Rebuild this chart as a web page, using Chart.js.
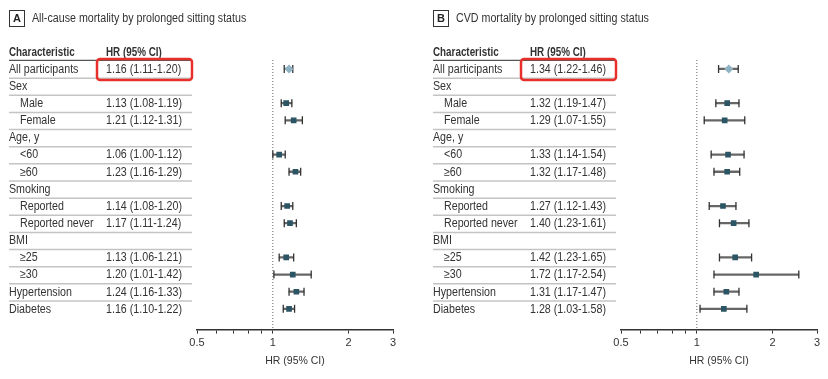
<!DOCTYPE html>
<html>
<head>
<meta charset="utf-8">
<script src="https://cdn.jsdelivr.net/npm/chart.js@4/dist/chart.umd.min.js"></script>
<style>
  body { margin: 0; background: #fff; width: 828px; height: 379px; position: relative; overflow: hidden; }
  .panel { position: absolute; top: 0; width: 405px; height: 379px; }
</style>
</head>
<body>
<div class="panel" style="left:0"><canvas id="chartA" width="405" height="379"></canvas></div>
<div class="panel" style="left:424px"><canvas id="chartB" width="405" height="379"></canvas></div>
<script>
// rows of the table, top to bottom
const categories = ["All participants", "Sex", "Male", "Female", "Age, y", "<60", "\u226560",
  "Smoking", "Reported", "Reported never", "BMI", "\u226525", "\u226530", "Hypertension", "Diabetes"];
const indented = [false, false, true, true, false, true, true, false, true, true, false, true, true, false, false];

// A: all-cause mortality
const hrA = [1.16, null, 1.13, 1.21, null, 1.06, 1.23, null, 1.14, 1.17, null, 1.13, 1.20, 1.24, 1.16];
const loA = [1.11, null, 1.08, 1.12, null, 1.00, 1.16, null, 1.08, 1.11, null, 1.06, 1.01, 1.16, 1.10];
const hiA = [1.20, null, 1.19, 1.31, null, 1.12, 1.29, null, 1.20, 1.24, null, 1.21, 1.42, 1.33, 1.22];

// B: CVD mortality
const hrB = [1.34, null, 1.32, 1.29, null, 1.33, 1.32, null, 1.27, 1.40, null, 1.42, 1.72, 1.31, 1.28];
const loB = [1.22, null, 1.19, 1.07, null, 1.14, 1.17, null, 1.12, 1.23, null, 1.23, 1.17, 1.17, 1.03];
const hiB = [1.46, null, 1.47, 1.55, null, 1.54, 1.48, null, 1.43, 1.61, null, 1.65, 2.54, 1.47, 1.58];

const xTicks = [0.5, 0.6, 0.7, 0.8, 0.9, 1, 2, 3];
const xTickLabels = [0.5, 1, 2, 3];

const FONT = '"Liberation Sans", Arial, sans-serif';
Chart.defaults.font.family = FONT;
Chart.defaults.font.size = 11;
Chart.defaults.color = "#333";

const Y_MIN = -0.52, Y_MAX = 15.21;

function fmt(h, l, u) {
  return h.toFixed(2) + " (" + l.toFixed(2) + "-" + u.toFixed(2) + ")";
}

// narrow-looking text: draw with a squeezed max width
function txt(ctx, s, x, y, k) {
  const w = ctx.measureText(s).width;
  ctx.fillText(s, x, y, w * k);
}

function tablePlugin(letter, title, hr, lo, hi) {
  return {
    id: "table" + letter,
    afterDraw(chart) {
      const ctx = chart.ctx;
      const y = chart.scales.y;
      ctx.save();
      // panel title
      ctx.strokeStyle = "#333";
      ctx.lineWidth = 1;
      ctx.strokeRect(9.5, 10.5, 15, 16);
      ctx.fillStyle = "#222";
      ctx.textBaseline = "middle";
      ctx.textAlign = "center";
      ctx.font = "bold 11px " + FONT;
      ctx.fillText(letter, 17, 19);
      ctx.textAlign = "left";
      ctx.font = "12px " + FONT;
      ctx.fillStyle = "#333";
      txt(ctx, title, 32, 18.5, 0.89);

      // header
      const hy = y.getPixelForValue(-0.93);
      ctx.font = "bold 12px " + FONT;
      txt(ctx, "Characteristic", 9, hy, 0.82);
      txt(ctx, "HR (95% CI)", 106, hy, 0.82);
      ctx.strokeStyle = "#555";
      ctx.lineWidth = 1.2;
      ctx.beginPath();
      ctx.moveTo(9, y.getPixelForValue(-0.5));
      ctx.lineTo(192, y.getPixelForValue(-0.5));
      ctx.stroke();

      // rows
      ctx.font = "12px " + FONT;
      categories.forEach((c, i) => {
        const py = y.getPixelForValue(i) + 0.5;
        ctx.fillStyle = "#333";
        txt(ctx, c, indented[i] ? 20 : 9, py, 0.89);
        if (hr[i] != null) txt(ctx, fmt(hr[i], lo[i], hi[i]), 106, py, 0.89);
        if (i < categories.length - 1) {
          ctx.strokeStyle = "#c4c4c4";
          ctx.lineWidth = 1.5;
          const ly = y.getPixelForValue(i + 0.54);
          ctx.beginPath();
          ctx.moveTo(9, ly);
          ctx.lineTo(192, ly);
          ctx.stroke();
        }
      });

      // highlight box around overall estimate
      const by = y.getPixelForValue(0);
      ctx.strokeStyle = "#e8302a";
      ctx.lineWidth = 2.5;
      ctx.beginPath();
      ctx.roundRect(97, by - 10, 95, 21, 3);
      ctx.stroke();
      ctx.restore();
    }
  };
}

function makePanel(id, letter, title, hr, lo, hi) {
  const idx = hr.map((v, i) => (v == null ? null : i)).filter(i => i != null);
  new Chart(document.getElementById(id), {
    type: "bar",
    data: {
      datasets: [
        {
          // reference line at HR = 1
          type: "scatter",
          data: [{ x: 1, y: Y_MIN }, { x: 1, y: Y_MAX }],
          showLine: true,
          borderColor: "#666",
          borderWidth: 1,
          borderDash: [1, 2],
          pointRadius: 0,
          order: 4,
        },
        {
          // confidence intervals
          type: "bar",
          data: idx.map(i => ({ y: i, x: [lo[i], hi[i]] })),
          backgroundColor: "#666",
          barThickness: 1.6,
          order: 3,
        },
        {
          // interval caps
          type: "scatter",
          data: idx.flatMap(i => [{ x: lo[i], y: i }, { x: hi[i], y: i }]),
          pointStyle: "line",
          rotation: 90,
          pointRadius: 4,
          borderColor: "#333",
          pointBorderWidth: 1.3,
          order: 2,
        },
        {
          // point estimates
          type: "scatter",
          data: idx.map(i => ({ x: hr[i], y: i })),
          pointStyle: idx.map(i => (i === 0 ? "rectRot" : "rect")),
          pointRadius: idx.map(i => (i === 0 ? 4.5 : 4)),
          backgroundColor: idx.map(i => (i === 0 ? "#8fb3c3" : "#2b5564")),
          borderColor: idx.map(i => (i === 0 ? "#8fb3c3" : "#2b5564")),
          pointBorderWidth: 0,
          order: 1,
        },
      ],
    },
    options: {
      indexAxis: "y",
      responsive: false,
      animation: false,
      layout: { padding: { top: 60, left: 197, right: 12, bottom: 11.6 } },
      plugins: { legend: { display: false }, tooltip: { enabled: false } },
      scales: {
        x: {
          type: "logarithmic",
          min: 0.5,
          max: 3,
          offset: false,
          beginAtZero: false,
          afterBuildTicks: (scale) => { scale.ticks = xTicks.map(v => ({ value: v })); },
          ticks: {
            autoSkip: false,
            maxRotation: 0,
            padding: 3,
            color: "#333",
            font: { size: 11 },
            callback: (v) => (xTickLabels.includes(v) ? String(v) : ""),
          },
          grid: { drawOnChartArea: false, drawTicks: true, tickLength: 4, color: "#333", offset: false },
          border: { display: true, color: "#333", width: 1.5 },
          title: { display: true, text: "HR (95% CI)", color: "#333", font: { size: 10.5 }, padding: { top: 2, bottom: 0 } },
        },
        y: {
          type: "linear",
          reverse: true,
          min: Y_MIN,
          max: Y_MAX,
          offset: false,
          display: false,
        },
      },
    },
    plugins: [tablePlugin(letter, title, hr, lo, hi)],
  });
}

makePanel("chartA", "A", "All-cause mortality by prolonged sitting status", hrA, loA, hiA);
makePanel("chartB", "B", "CVD mortality by prolonged sitting status", hrB, loB, hiB);
</script>
</body>
</html>
